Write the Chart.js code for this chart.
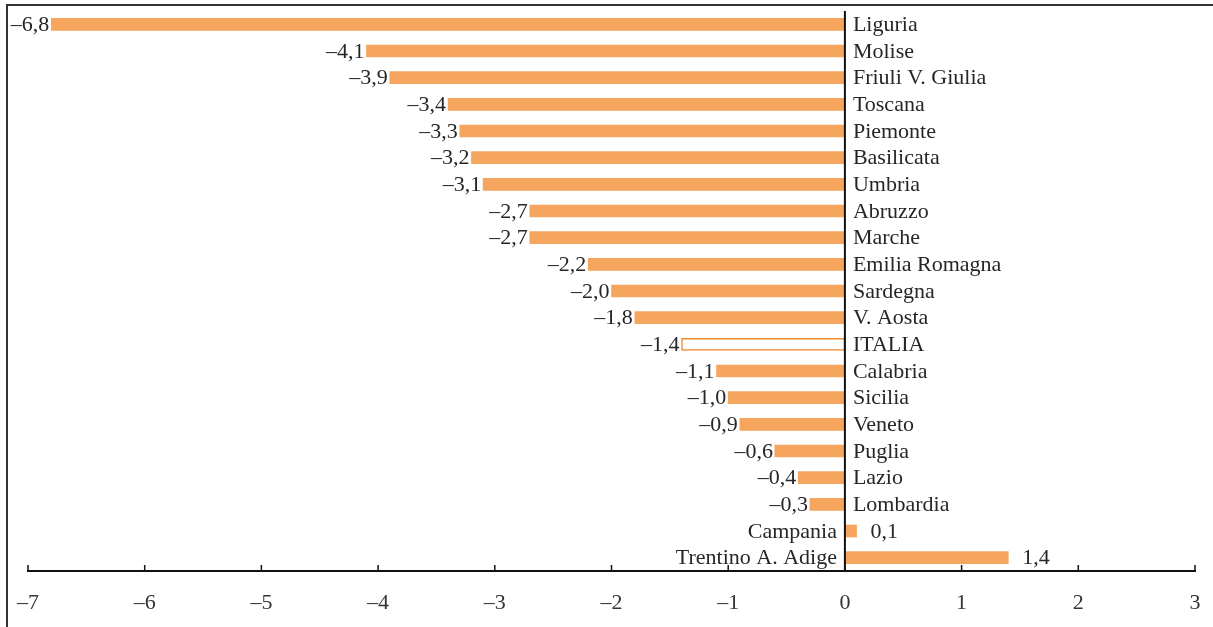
<!DOCTYPE html>
<html>
<head>
<meta charset="utf-8">
<script src="https://cdn.jsdelivr.net/npm/chart.js@4"></script>
<style>
  html, body { margin: 0; padding: 0; background: #fff; }
  #wrap { width: 1213px; height: 627px; }
</style>
</head>
<body>
<div id="wrap"><canvas id="chart" width="1213" height="627"></canvas></div>
<script>
// Regions, sorted as in the picture
const regions = ['Liguria', 'Molise', 'Friuli V. Giulia', 'Toscana', 'Piemonte', 'Basilicata',
  'Umbria', 'Abruzzo', 'Marche', 'Emilia Romagna', 'Sardegna', 'V. Aosta', 'ITALIA',
  'Calabria', 'Sicilia', 'Veneto', 'Puglia', 'Lazio', 'Lombardia', 'Campania', 'Trentino A. Adige'];
const values = [-6.8, -4.1, -3.9, -3.4, -3.3, -3.2, -3.1, -2.7, -2.7, -2.2, -2.0, -1.8, -1.4,
  -1.1, -1.0, -0.9, -0.6, -0.4, -0.3, 0.1, 1.4];
const xTicks = [-7, -6, -5, -4, -3, -2, -1, 0, 1, 2, 3];

const ORANGE = '#f6a55f';
const FONT = '"Liberation Serif", "DejaVu Serif", serif';

// format like the print: en dash for minus, comma decimal
function fmt(v, digits) {
  const s = Math.abs(v).toFixed(digits).replace('.', ',');
  return v < 0 ? '\u2013' + s : s;
}

const fills = regions.map(r => r === 'ITALIA' ? '#ffffff' : ORANGE);
const borders = regions.map(r => r === 'ITALIA' ? '#ef8a30' : ORANGE);
const borderW = regions.map(r => r === 'ITALIA' ? 1.5 : 0);

// frame, zero line, upward tick marks and text labels
const decor = {
  id: 'decor',
  beforeDraw(chart) {
    const c = chart.ctx;
    c.save();
    c.strokeStyle = '#333';
    c.lineWidth = 2;
    c.beginPath();
    c.moveTo(7, chart.height);
    c.lineTo(7, 5);
    c.lineTo(chart.width, 5);
    c.stroke();
    c.restore();
  },
  afterDatasetsDraw(chart) {
    const c = chart.ctx;
    const xs = chart.scales.x;
    const area = chart.chartArea;
    const x0 = xs.getPixelForValue(0);
    c.save();
    // zero line
    c.strokeStyle = '#111';
    c.lineWidth = 2;
    c.beginPath();
    c.moveTo(x0, area.top);
    c.lineTo(x0, area.bottom);
    c.stroke();
    // tick marks pointing up from the axis
    c.lineWidth = 1.5;
    xTicks.forEach(t => {
      const px = xs.getPixelForValue(t);
      c.beginPath();
      c.moveTo(px, area.bottom);
      c.lineTo(px, area.bottom - 6);
      c.stroke();
    });
    // labels
    c.font = '22px ' + FONT;
    c.fillStyle = '#262626';
    c.textBaseline = 'middle';
    const meta = chart.getDatasetMeta(0);
    meta.data.forEach((bar, i) => {
      const v = values[i];
      const y = bar.y + 1;
      if (v < 0) {
        c.textAlign = 'left';
        c.fillText(regions[i], x0 + 8, y);
        c.textAlign = 'right';
        c.fillText(fmt(v, 1), bar.x - 2, y);
      } else {
        c.textAlign = 'right';
        c.fillText(regions[i], x0 - 8, y);
        c.textAlign = 'left';
        c.fillText(fmt(v, 1), bar.x + 14, y);
      }
    });
    c.restore();
  }
};

new Chart(document.getElementById('chart'), {
  type: 'bar',
  data: {
    labels: regions,
    datasets: [{
      data: values,
      backgroundColor: fills,
      borderColor: borders,
      borderWidth: borderW,
      borderSkipped: false,
      barThickness: 12
    }]
  },
  options: {
    indexAxis: 'y',
    responsive: false,
    animation: false,
    layout: { padding: { left: 28, right: 18, top: 11, bottom: 13 } },
    plugins: { legend: { display: false }, tooltip: { enabled: false } },
    scales: {
      y: { display: false },
      x: {
        min: -7,
        max: 3,
        afterBuildTicks(axis) { axis.ticks = xTicks.map(v => ({ value: v })); },
        afterFit(axis) {
          axis.height = 43;
          axis.paddingLeft = 0;
          axis.paddingRight = 0;
        },
        grid: { display: false, drawTicks: false },
        border: { display: true, color: '#111', width: 2 },
        ticks: {
          padding: 19,
          color: '#333',
          font: { family: FONT, size: 22 },
          callback: v => fmt(v, 0)
        }
      }
    }
  },
  plugins: [decor]
});
</script>
</body>
</html>
